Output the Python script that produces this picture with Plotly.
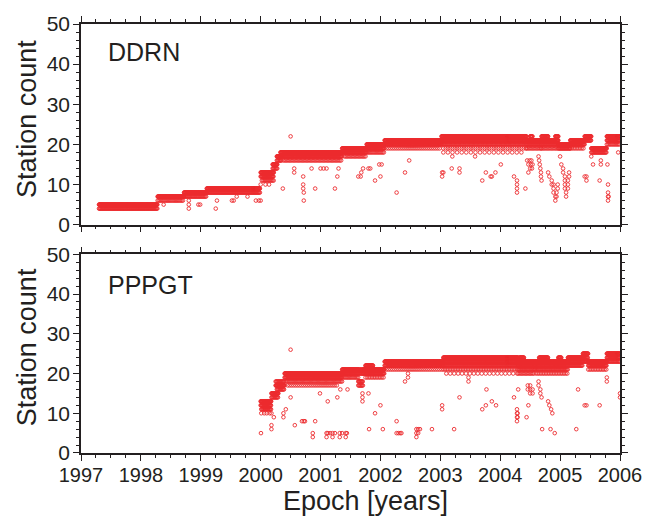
import numpy as np
import plotly.graph_objects as go

# ---------------- data ----------------
# Main bands as runs of daily observations: start epoch, end epoch, station count, days between plotted obs
DDRN_RUN_START = [1997.30, 1997.30, 1998.28, 1998.28, 1998.72, 1998.72, 1999.10, 1999.10,
                  2000.00, 2000.00, 2000.02, 2000.20, 2000.20, 2000.27, 2000.27,
                  2000.33, 2000.33, 2000.38, 2001.36, 2001.36, 2001.40,
                  2001.77, 2001.77, 2001.77, 2002.07, 2002.07, 2002.10,
                  2003.02, 2003.02, 2003.02, 2003.05, 2003.05,
                  2004.44, 2004.44, 2004.44, 2004.50, 2004.69, 2004.69, 2004.69, 2004.69, 2004.92,
                  2004.97, 2004.97, 2005.17, 2005.17, 2005.17, 2005.41, 2005.41,
                  2005.52, 2005.52, 2005.78, 2005.78, 2005.78]
DDRN_RUN_END = [1998.28, 1998.28, 1998.72, 1998.72, 1999.10, 1999.10, 1999.99, 1999.99,
                2000.22, 2000.22, 2000.22, 2000.28, 2000.28, 2000.35, 2000.35,
                2001.36, 2001.36, 2001.36, 2001.77, 2001.77, 2001.77,
                2002.07, 2002.07, 2002.07, 2003.02, 2003.02, 2003.00,
                2004.44, 2004.44, 2004.44, 2004.44, 2004.40,
                2004.69, 2004.69, 2004.69, 2004.54, 2004.80, 2004.97, 2004.97, 2004.97, 2004.97,
                2005.17, 2005.17, 2005.41, 2005.41, 2005.41, 2005.52, 2005.52,
                2005.78, 2005.78, 2006.00, 2006.00, 2006.00]
DDRN_RUN_VALUE = [5, 4, 7, 6, 8, 7, 9, 8,
                  13, 12, 11, 15, 14, 17, 16,
                  18, 17, 16, 19, 18, 17,
                  20, 19, 18, 21, 20, 19,
                  22, 21, 20, 19, 18,
                  21, 20, 19, 22, 22, 21, 20, 19, 22,
                  20, 19, 21, 20, 19, 22, 21,
                  19, 18, 22, 21, 20]
DDRN_RUN_EVERY = [2, 4, 2, 7, 2, 5, 2, 4,
                  2, 3, 6, 2, 4, 2, 4,
                  2, 3, 8, 2, 3, 8,
                  2, 3, 7, 2, 3, 12,
                  2, 3, 5, 14, 28,
                  2, 4, 8, 2, 2, 2, 4, 8, 2,
                  2, 4, 2, 3, 10, 2, 3,
                  2, 4, 2, 3, 7]

# Isolated low counts
DDRN_OUT_T = [1998.38, 1998.80, 1998.80, 1998.80, 1998.96, 1998.99, 1999.25, 1999.27,
              1999.52, 1999.55, 1999.60, 1999.78, 1999.92, 1999.97, 2000.00, 2000.00, 2000.08, 2000.14,
              2000.37, 2000.50, 2000.56, 2000.56,
              2000.71, 2000.71, 2000.71, 2000.72, 2000.72, 2000.85, 2000.91,
              2001.00, 2001.05, 2001.10, 2001.24, 2001.28, 2001.30,
              2001.63, 2001.67, 2001.68, 2001.71, 2001.80, 2001.83, 2001.91, 2001.98, 2002.00, 2002.02,
              2002.27, 2002.41, 2002.48,
              2003.03, 2003.03, 2003.05, 2003.19, 2003.20, 2003.32, 2003.32, 2003.58,
              2003.70, 2003.76, 2003.84, 2003.86, 2003.92, 2004.01, 2004.23,
              2004.28, 2004.28, 2004.28, 2004.28, 2004.42, 2004.47,
              2004.45, 2004.47, 2004.49, 2004.50, 2004.51, 2004.52, 2004.53, 2004.54,
              2004.64, 2004.65, 2004.66, 2004.67, 2004.68, 2004.68, 2004.69,
              2004.80, 2004.82, 2004.86, 2004.86, 2004.89, 2004.89, 2004.89, 2004.92, 2004.92,
              2004.94, 2004.94, 2004.96, 2004.96,
              2005.00, 2005.02, 2005.05, 2005.05, 2005.08, 2005.08, 2005.08, 2005.08,
              2005.10, 2005.10, 2005.13, 2005.13, 2005.13, 2005.15, 2005.15,
              2005.41, 2005.44, 2005.44, 2005.52, 2005.55, 2005.66, 2005.68, 2005.68,
              2005.79, 2005.80, 2005.80, 2005.80, 2005.80, 2005.81, 2005.97]
DDRN_OUT_V = [5, 6, 5, 4, 5, 5, 4, 6,
              6, 6, 7, 7, 6, 6, 6, 10, 10, 10,
              9, 22, 14, 13,
              12, 10, 9, 8, 6, 14, 9,
              14, 14, 14, 9, 12, 14,
              12, 12, 13, 14, 14, 14, 11, 15, 12, 15,
              8, 13, 16,
              13, 12, 13, 14, 17, 14, 13, 17,
              11, 13, 12, 12, 13, 15, 12,
              11, 10, 9, 8, 9, 13,
              16, 15, 16, 14, 15, 16, 14, 15,
              17, 16, 15, 14, 13, 12, 11,
              13, 12, 11, 10, 10, 9, 8, 7, 6,
              8, 7, 10, 9,
              17, 15, 14, 13, 12, 11, 10, 9,
              8, 7, 9, 10, 11, 12, 13,
              12, 12, 11, 17, 15, 11, 16, 15,
              15, 10, 8, 7, 6, 7, 18]

PPPGT_RUN_START = [2000.00, 2000.00, 2000.02, 2000.18, 2000.18, 2000.25, 2000.25, 2000.27,
                   2000.40, 2000.40, 2000.42, 2000.45, 2001.36, 2001.36, 2001.36,
                   2001.63, 2001.63, 2001.63, 2001.63, 2001.71, 2001.71, 2001.75, 2001.75,
                   2002.07, 2002.07, 2002.10, 2003.05, 2003.05, 2003.05, 2003.05, 2003.10,
                   2004.30, 2004.30, 2004.30, 2004.30, 2004.32,
                   2004.58, 2004.58, 2004.58, 2004.60, 2004.65, 2004.97,
                   2005.13, 2005.13, 2005.13, 2005.38, 2005.38, 2005.38,
                   2005.47, 2005.47, 2005.47, 2005.78, 2005.78, 2005.78]
PPPGT_RUN_END = [2000.18, 2000.18, 2000.18, 2000.30, 2000.30, 2000.40, 2000.40, 2000.40,
                 2001.36, 2001.36, 2001.36, 2001.30, 2001.63, 2001.63, 2001.63,
                 2001.71, 2001.71, 2001.71, 2001.71, 2002.07, 2002.07, 2001.88, 2002.07,
                 2003.05, 2003.05, 2003.05, 2004.30, 2004.30, 2004.30, 2004.30, 2004.30,
                 2004.58, 2004.58, 2004.58, 2004.58, 2004.40,
                 2005.13, 2005.13, 2005.13, 2005.13, 2004.80, 2005.02,
                 2005.38, 2005.38, 2005.38, 2005.47, 2005.47, 2005.47,
                 2005.78, 2005.78, 2005.78, 2006.00, 2006.00, 2006.00]
PPPGT_RUN_VALUE = [13, 12, 11, 15, 14, 18, 17, 16,
                   20, 19, 18, 17, 21, 20, 19,
                   21, 20, 18, 17, 21, 20, 22, 19,
                   23, 22, 21, 24, 23, 22, 21, 20,
                   23, 22, 21, 20, 24,
                   23, 22, 21, 20, 24, 24,
                   24, 23, 22, 25, 24, 23,
                   23, 22, 21, 25, 24, 23]
PPPGT_RUN_EVERY = [2, 3, 4, 2, 4, 4, 2, 4,
                   2, 3, 7, 12, 2, 3, 7,
                   4, 4, 3, 4, 2, 3, 2, 10,
                   2, 3, 12, 2, 3, 4, 10, 24,
                   2, 3, 5, 8, 2,
                   2, 3, 5, 10, 2, 2,
                   2, 3, 4, 2, 3, 4,
                   2, 3, 10, 2, 3, 5]

PPPGT_OUT_T = [2000.005, 2000.01, 2000.01, 2000.06, 2000.10, 2000.15, 2000.18, 2000.18, 2000.18, 2000.22,
               2000.38, 2000.38, 2000.42, 2000.50, 2000.50, 2000.57, 2000.69, 2000.72, 2000.74,
               2000.87, 2000.87, 2000.91, 2000.99,
               2001.10, 2001.10, 2001.12, 2001.12, 2001.16, 2001.20, 2001.20, 2001.24, 2001.28,
               2001.32, 2001.32, 2001.33, 2001.36, 2001.42, 2001.42, 2001.44, 2001.45,
               2001.70, 2001.70, 2001.70, 2001.80, 2001.81, 2001.91, 2002.00, 2002.04,
               2002.27, 2002.27, 2002.30, 2002.33, 2002.35, 2002.41, 2002.46, 2002.46,
               2002.60, 2002.60, 2002.60, 2002.63, 2002.63, 2002.66, 2002.86,
               2003.03, 2003.03, 2003.23, 2003.32, 2003.47, 2003.47, 2003.70, 2003.76, 2003.77,
               2003.86, 2003.93, 2004.23, 2004.28, 2004.28, 2004.28, 2004.28, 2004.29, 2004.29, 2004.30,
               2004.44, 2004.47, 2004.46, 2004.46, 2004.50, 2004.50, 2004.50, 2004.54, 2004.54,
               2004.64, 2004.64, 2004.67, 2004.67, 2004.69, 2004.70,
               2004.80, 2004.82, 2004.85, 2004.87, 2004.84, 2004.91,
               2005.27, 2005.30, 2005.41, 2005.44, 2005.66, 2005.78, 2005.78, 2006.00, 2006.00]
PPPGT_OUT_V = [5, 11, 10, 10, 10, 10, 10, 7, 6, 9,
               10, 9, 11, 26, 14, 7, 8, 8, 8,
               5, 4, 8, 15,
               5, 4, 5, 13, 5, 5, 4, 5, 14,
               5, 4, 16, 5, 5, 4, 5, 16,
               15, 14, 13, 15, 6, 10, 12, 6,
               8, 5, 5, 5, 5, 18, 20, 19,
               6, 5, 4, 6, 5, 6, 6,
               12, 11, 6, 14, 19, 18, 11, 12, 16,
               13, 12, 14, 11, 10, 9, 8, 10, 9, 16,
               9, 12, 17, 16, 17, 16, 15, 16, 15,
               18, 17, 16, 15, 14, 6,
               13, 12, 11, 10, 6, 5,
               6, 16, 12, 12, 12, 19, 18, 15, 14]

X_TICKS = [1997, 1998, 1999, 2000, 2001, 2002, 2003, 2004, 2005, 2006]
Y_TICKS = [0, 10, 20, 30, 40, 50]
PANEL_LABELS = ["DDRN", "PPPGT"]


def expand(starts, ends, values, every, out_t, out_v):
    ts, vs = [], []
    for s, e, v, d in zip(starts, ends, values, every):
        t = np.arange(s, e, d / 365.25)
        ts.append(t)
        vs.append(np.full(t.shape, v, dtype=float))
    ts.append(np.asarray(out_t, float))
    vs.append(np.asarray(out_v, float))
    return np.concatenate(ts), np.concatenate(vs)


ddrn_t, ddrn_v = expand(DDRN_RUN_START, DDRN_RUN_END, DDRN_RUN_VALUE, DDRN_RUN_EVERY, DDRN_OUT_T, DDRN_OUT_V)
ppp_t, ppp_v = expand(PPPGT_RUN_START, PPPGT_RUN_END, PPPGT_RUN_VALUE, PPPGT_RUN_EVERY, PPPGT_OUT_T, PPPGT_OUT_V)

RED = "#ec2a2e"
INK = "#231f20"
FONT = "Liberation Sans, Arial, Helvetica, sans-serif"

marker = dict(symbol="circle-open", size=3.6, color=RED, line=dict(width=0.9, color=RED))

fig = go.Figure()
fig.add_trace(go.Scatter(x=ddrn_t, y=ddrn_v, mode="markers", marker=marker,
                         xaxis="x", yaxis="y", showlegend=False, name="DDRN"))
fig.add_trace(go.Scatter(x=ppp_t, y=ppp_v, mode="markers", marker=marker,
                         xaxis="x2", yaxis="y2", showlegend=False, name="PPPGT"))

common = dict(showline=True, linecolor=INK, linewidth=1.5, mirror="ticks",
              ticks="outside", ticklen=6, tickwidth=1.2, tickcolor=INK,
              showgrid=False, zeroline=False,
              tickfont=dict(family=FONT, size=21, color=INK))
xcommon = dict(common, range=[1997, 2006], tickvals=X_TICKS,
               ticktext=[str(v) for v in X_TICKS], ticklabelstandoff=-3,
               tickfont=dict(family=FONT, size=20, color=INK),
               minor=dict(ticks="outside", ticklen=3, tickwidth=1, tickcolor=INK, dtick=0.25, tick0=1997, showgrid=False))
ycommon = dict(common, range=[0, 50], tickvals=Y_TICKS, ticklabelstandoff=-1,
               minor=dict(ticks="outside", ticklen=3, tickwidth=1, tickcolor=INK, dtick=2, tick0=0, showgrid=False))

W, H = 659, 516
PW, PH = 620 - 81, 453 - 19


def py(pix):
    return (453 - pix) / PH


def px(pix):
    return (pix - 81) / PW


fig.update_layout(
    width=W, height=H,
    margin=dict(l=81, r=W - 620, t=19, b=H - 453, pad=0),
    paper_bgcolor="white", plot_bgcolor="white",
    xaxis=dict(xcommon, domain=[0, 1], anchor="y", showticklabels=False),
    yaxis=dict(ycommon, domain=[py(222), 1], anchor="x"),
    xaxis2=dict(xcommon, domain=[0, 1], anchor="y2"),
    yaxis2=dict(ycommon, domain=[0, py(252)], anchor="x2"),
    font=dict(family=FONT, color=INK),
    annotations=[
        dict(text=PANEL_LABELS[0], xref="paper", yref="paper", x=px(106), y=py(47),
             xanchor="left", yanchor="middle", showarrow=False, font=dict(size=25, color=INK, family=FONT)),
        dict(text=PANEL_LABELS[1], xref="paper", yref="paper", x=px(106), y=py(283),
             xanchor="left", yanchor="middle", showarrow=False, font=dict(size=25, color=INK, family=FONT)),
        dict(text="Station count", xref="paper", yref="paper", x=px(27), y=py(115),
             xanchor="center", yanchor="middle", textangle=-90, showarrow=False,
             font=dict(size=27, color=INK, family=FONT)),
        dict(text="Station count", xref="paper", yref="paper", x=px(27), y=py(346),
             xanchor="center", yanchor="middle", textangle=-90, showarrow=False,
             font=dict(size=27, color=INK, family=FONT)),
        dict(text="Epoch [years]", xref="paper", yref="paper", x=px(365), y=py(502),
             xanchor="center", yanchor="middle", showarrow=False,
             font=dict(size=27, color=INK, family=FONT)),
    ],
)

fig.write_html("out.html")
